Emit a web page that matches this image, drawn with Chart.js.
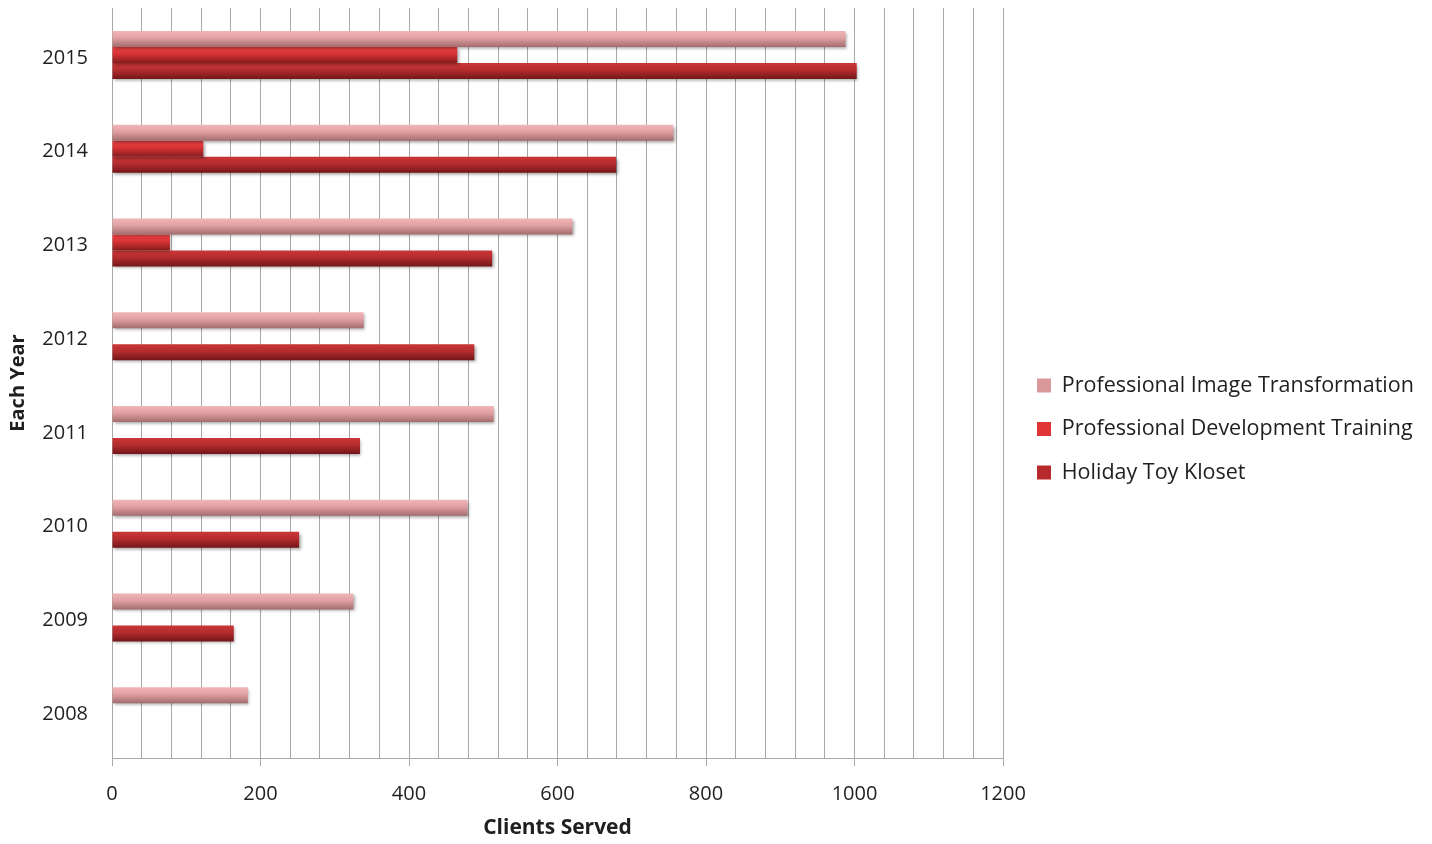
<!DOCTYPE html>
<html>
<head>
<meta charset="utf-8">
<script src="https://cdn.jsdelivr.net/npm/chart.js@4.4.1/dist/chart.umd.min.js"></script>
<style>
  html, body { margin: 0; padding: 0; background: #ffffff; }
  canvas { display: block; }
</style>
</head>
<body>
<canvas id="chart" width="1432" height="844"></canvas>
<script>
// Clients served per program, by year (top row = most recent year)
const years = ['2015', '2014', '2013', '2012', '2011', '2010', '2009', '2008'];
const imageTransformation = [988, 756, 620, 339, 514, 479, 325, 183];
const developmentTraining = [465, 123, 78, 0, 0, 0, 0, 0];
const toyKloset = [1003, 679, 512, 488, 334, 252, 164, 0];
const seriesNames = [
  'Professional Image Transformation',
  'Professional Development Training',
  'Holiday Toy Kloset'
];

const FONT = '"Open Sans", Lato, sans-serif';
const TEXT = '#1f1f1f';
const GRID = '#a8a8a8';
const CAT_PCT = 0.512;
const LEGEND_WIDTH = 429;   // room reserved to the right of the plot
const LEGEND_SHIFT = 12;    // gap between plot edge and legend swatches

// top / middle / bottom shades for each series' bar gradient
const shades = [
  ['#f2b6b8', '#e0a0a2', '#a46c6e'],
  ['#ec4244', '#d83234', '#861c1e'],
  ['#cc3638', '#b42c2e', '#741618']
];
// flat swatch colours for the legend
const swatches = ['#d9989a', '#e03436', '#b62a2c'];

// vertical gradient sized to each individual bar
function barFill(idx) {
  const s = shades[idx];
  return (ctx) => {
    const chart = ctx.chart;
    if (ctx.type !== 'data' || !chart.chartArea || !chart.scales.y) return swatches[idx];
    const y = chart.scales.y;
    const center = y.getPixelForValue(ctx.dataIndex);
    const catH = (y.height / years.length) * CAT_PCT;
    const barH = catH / 3;
    const top = center - catH / 2 + ctx.datasetIndex * barH;
    const g = chart.ctx.createLinearGradient(0, top, 0, top + barH);
    g.addColorStop(0, s[0]);
    g.addColorStop(0.45, s[1]);
    g.addColorStop(1, s[2]);
    return g;
  };
}

// soft drop shadow under the bars
const barShadow = {
  id: 'barShadow',
  beforeDatasetsDraw(chart) {
    const c = chart.ctx;
    c.save();
    c.shadowColor = 'rgba(0,0,0,0.35)';
    c.shadowBlur = 3;
    c.shadowOffsetX = 1.5;
    c.shadowOffsetY = 2;
  },
  afterDatasetsDraw(chart) {
    chart.ctx.restore();
  }
};

// fixed-width legend column on the right, swatches set slightly in from the plot
const legendColumn = {
  id: 'legendColumn',
  beforeInit(chart) {
    const lg = chart.legend;
    if (!lg) return;
    const baseUpdate = lg.update.bind(lg);
    lg.update = function (maxW, maxH, margins) {
      baseUpdate(1000, maxH, margins);
      this.width = LEGEND_WIDTH;
    };
  },
  afterLayout(chart) {
    const l = chart.legend;
    if (l) {
      l.left += LEGEND_SHIFT; l.right += LEGEND_SHIFT;
      l.top += 3; l.bottom += 3;
    }
  }
};

new Chart(document.getElementById('chart'), {
  type: 'bar',
  data: {
    labels: years,
    datasets: [
      { label: seriesNames[0], data: imageTransformation, backgroundColor: barFill(0) },
      { label: seriesNames[1], data: developmentTraining, backgroundColor: barFill(1) },
      { label: seriesNames[2], data: toyKloset, backgroundColor: barFill(2) }
    ]
  },
  options: {
    indexAxis: 'y',
    responsive: false,
    animation: false,
    categoryPercentage: CAT_PCT,
    barPercentage: 1,
    borderWidth: 0,
    layout: { padding: { top: 8, left: 0, right: 0, bottom: 0 } },
    plugins: {
      tooltip: { enabled: false },
      legend: {
        position: 'right',
        align: 'center',
        labels: {
          boxWidth: 14,
          boxHeight: 14,
          padding: 22,
          color: TEXT,
          font: { family: FONT, size: 21.5 },
          generateLabels(chart) {
            const items = Chart.defaults.plugins.legend.labels.generateLabels(chart);
            items.forEach((it, i) => { it.fillStyle = swatches[i]; it.strokeStyle = swatches[i]; it.lineWidth = 0; });
            return items;
          }
        }
      }
    },
    scales: {
      x: {
        min: 0,
        max: 1200,
        ticks: {
          stepSize: 40,
          autoSkip: false,
          maxRotation: 0,
          padding: 16,
          color: TEXT,
          font: { family: FONT, size: 20 },
          callback: (v) => (v % 200 === 0 ? String(v) : '')
        },
        grid: {
          color: GRID,
          lineWidth: 1,
          tickLength: 8,
          tickColor: (c) => (c.tick && c.tick.value % 200 === 0 ? GRID : 'rgba(0,0,0,0)')
        },
        border: { color: GRID },
        title: {
          display: true,
          text: 'Clients Served',
          color: TEXT,
          font: { family: FONT, size: 21, weight: 'bold' },
          padding: { top: 4, bottom: 3 }
        },
        afterFit(s) { s.height = 86; }
      },
      y: {
        grid: { display: false, drawTicks: false },
        border: { display: true, color: GRID },
        ticks: {
          padding: 24,
          labelOffset: 3,
          color: TEXT,
          font: { family: FONT, size: 20 }
        },
        title: {
          display: true,
          text: 'Each Year',
          color: TEXT,
          font: { family: FONT, size: 20, weight: 'bold' },
          padding: { top: 6, bottom: 0 }
        },
        afterFit(s) {
          s.width = 112;
          s.paddingTop = 0;
          s.paddingBottom = 0;
        }
      }
    }
  },
  plugins: [barShadow, legendColumn]
});
</script>
</body>
</html>
